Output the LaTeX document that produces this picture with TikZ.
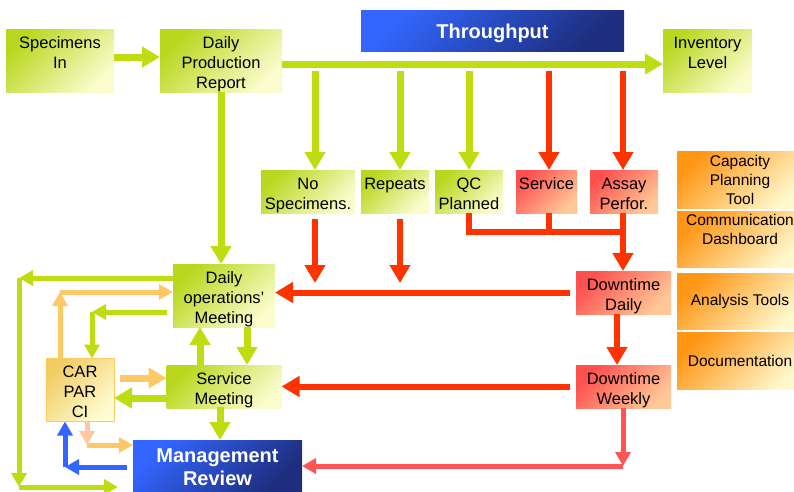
\documentclass[tikz,border=0pt]{standalone}
\usepackage{fontspec}
\setmainfont{Liberation Sans}
\usetikzlibrary{arrows.meta,calc}
\newcommand\myts{\rule{0pt}{19pt}}
\newcommand\mybs{\rule[-4pt]{0pt}{0pt}}
\newcommand\mybts{\rule{0pt}{21pt}}
\newcommand\mybbs{\rule[-4.5pt]{0pt}{0pt}}
\definecolor{gline}{RGB}{190,220,16}
\definecolor{gdark}{RGB}{185,215,30}
\definecolor{glight}{RGB}{250,252,205}
\definecolor{rline}{RGB}{255,51,0}
\definecolor{pline}{RGB}{255,85,85}
\definecolor{rdark}{RGB}{255,80,80}
\definecolor{rlight}{RGB}{255,200,150}
\definecolor{odark}{RGB}{255,150,20}
\definecolor{olight}{RGB}{255,248,205}
\definecolor{cdark}{RGB}{240,205,100}
\definecolor{clight}{RGB}{255,252,210}
\definecolor{cborder}{RGB}{255,200,96}
\definecolor{oline}{RGB}{255,200,102}
\definecolor{peachline}{RGB}{255,200,160}
\definecolor{bline}{RGB}{51,102,255}
\definecolor{bdark}{RGB}{30,45,125}
\definecolor{blight}{RGB}{51,102,255}
\begin{document}
\begin{tikzpicture}[x=1pt,y=-1pt,
  box/.style={inner sep=0pt, outer sep=0pt, align=center, text=black, font=\fontsize{16.5}{20}\selectfont},
  gbox/.style={box, top color=gdark, bottom color=glight, shading angle=45},
  rbox/.style={box, top color=rdark, bottom color=rlight, shading angle=45},
  obox/.style={box, font=\fontsize{15.5}{19}\selectfont, top color=odark, bottom color=olight, shading angle=45},
  cbox/.style={box, draw=cborder, line width=1pt, top color=cdark, bottom color=clight, shading angle=45},
  bbox/.style={box, text=white, font=\bfseries\fontsize{20}{23}\selectfont, top color=blight, bottom color=bdark, shading angle=45},
  sz/.style 2 args={minimum width=#1pt, minimum height=#2pt},
  big/.style={-{Triangle[width=20pt,length=18pt]}},
  sml/.style={-{Triangle[width=15pt,length=14pt]}},
  gthick/.style={draw=gline, line width=7pt},
  rthick/.style={draw=rline, line width=6pt},
  othick/.style={draw=oline, line width=7pt},
  gthin/.style={draw=gline, line width=5pt},
  othin/.style={draw=oline, line width=5pt},
  pthin/.style={draw=peachline, line width=5pt},
  bthin/.style={draw=bline, line width=5pt},
  pkthin/.style={draw=pline, line width=5pt}
]
\useasboundingbox (0,0) rectangle (794,491);

% nodes
\node[gbox, sz={108}{61}] (spec) at (60,60.5) {\myts Specimens\\In\\~\mybs};
\node[gbox, sz={122}{61}] (dpr) at (221,60.5) {\myts Daily\\Production\\Report\mybs};
\node[bbox, sz={263}{41}] (thr) at (492.5,30.5) {\mybts Throughput\mybbs};
\node[gbox, sz={89}{61}] (inv) at (707.5,60.5) {\myts Inventory\\Level\\~\mybs};
\node[gbox, sz={94}{41}] (nos) at (308,191.5) {\myts No\\Specimens.\mybs};
\node[gbox, sz={68}{41}] (rep) at (395,191.5) {\myts Repeats\\~\mybs};
\node[gbox, sz={68}{41}] (qc) at (469,191.5) {\myts QC\\Planned\mybs};
\node[rbox, sz={61}{41}] (serv) at (546.5,191.5) {\myts Service\\~\mybs};
\node[rbox, sz={68}{41}] (assay) at (624,191.5) {\myts Assay\\Perfor.\mybs};
\node[obox, sz={126}{57}] (cap) at (740,179.5) {Capacity\\Planning\\Tool};
\node[obox, sz={126}{56}] (comm) at (740,239) {Communication\\Dashboard\\~};
\node[obox, sz={126}{56}] (anal) at (740,301) {Analysis Tools};
\node[obox, sz={126}{57}] (doc) at (740,360.5) {Documentation};
\node[rbox, sz={95}{41}] (dtd) at (623.5,292.5) {\myts Downtime\\Daily\mybs};
\node[rbox, sz={95}{41}] (dtw) at (623.5,386.5) {\myts Downtime\\Weekly\mybs};
\node[gbox, sz={102}{61}] (dom) at (224,295.5) {\myts Daily\\operations’\\Meeting\mybs};
\node[gbox, sz={115}{41}] (sm) at (224,386.5) {\myts Service\\Meeting\mybs};
\node[cbox, sz={68}{62}] (car) at (80,390) {\myts CAR\\PAR\\CI\mybs};
\node[bbox, sz={169}{51}] (mr) at (217.5,465.5) {\mybts Management\\Review\mybbs};

% top row connectors
\draw[gthick, big] ([yshift=3.5pt]spec.east) -- ([yshift=3.5pt]dpr.west);
\draw[gthick, big] ([yshift=-3.5pt]dpr.east) -- ([yshift=-3.5pt]inv.west);
\coordinate (t1) at (315,71);
\coordinate (t2) at (400,71);
\coordinate (t3) at (469,71);
\coordinate (t4) at (549,71);
\coordinate (t5) at (623,71);
\draw[gthick, big] (t1) -- (t1 |- nos.north);
\draw[gthick, big] (t2) -- (t2 |- rep.north);
\draw[gthick, big] (t3) -- (t3 |- qc.north);
\draw[rthick, big] (t4) -- (t4 |- serv.north);
\draw[rthick, big] (t5) -- (t5 |- assay.north);

% below the middle boxes
\coordinate (v1) at (315,283);
\coordinate (v2) at (400,283);
\draw[rthick, big] ($(t1 |- nos.south)+(0,6)$) -- (v1);
\draw[rthick, big] ($(t2 |- rep.south)+(0,6)$) -- (v2);
\coordinate (j) at (623,232);
\draw[rthick] (t3 |- qc.south) |- (j);
\draw[rthick] (t4 |- serv.south) -- (t4 |- j);
\draw[rthick, big] (t5 |- assay.south) -- (t5 |- dtd.north);

% downtime connectors
\draw[rthick, big] ($(dtd.west)+(-6,0)$) -- (dom.east |- dtd.west);
\draw[rthick, big] ([xshift=-6.5pt]dtd.south) -- ([xshift=-6.5pt]dtw.north);
\draw[rthick, big] ($(dtw.west)+(-6,0)$) -- (sm.east |- dtw.west);
\coordinate (k) at (623,466);
\draw[pkthin, sml] (k |- dtw.south) -- (k);
\draw[pkthin, sml] (k) -- (mr.east |- k);

% DPR to daily operations meeting
\draw[gthick, big] (dpr.south) -- (dpr.south |- dom.north);

% daily ops <-> service meeting
\draw[gthick, big] ([xshift=-24pt]sm.north) -- ([xshift=-24pt]dom.south);
\draw[gthick, big] ([xshift=23pt]dom.south) -- ([xshift=23pt]sm.north);
\coordinate (m1) at (220,407);
\draw[gthick, big] (m1) -- (m1 |- mr.north);

% left loop
\coordinate (L1) at (19,278);
\coordinate (L2) at (19,487);
\coordinate (L3) at (118,487);
\draw[gthin, sml] (dom.west |- L1) -- (L1);
\draw[gthin, sml] (L1) -- (L2);
\draw[gthin, sml] (L2) -- (L3);

% CAR top orange to daily ops
\coordinate (O1) at (60,292);
\draw[othin, sml] (car.north -| O1) -- (O1);
\draw[othin, sml] (O1) -- (dom.west |- O1);

% daily ops green to CAR top
\coordinate (G1) at (92,312);
\draw[gthin, sml] ($(dom.west |- G1)+(-6,0)$) -- (G1);
\draw[gthin, sml] (G1) -- (G1 |- car.north);

% CAR <-> service meeting
\coordinate (c1) at ($(car.east)+(6,-12)$);
\draw[othick, big] (c1) -- (c1 -| sm.west);
\coordinate (c2) at ($(car.east)+(0,8)$);
\draw[gthick, big] (c2 -| sm.west) -- (c2);

% CAR to management review
\coordinate (P1) at (87,445);
\draw[pthin, sml] (car.south -| P1) -- (P1);
\draw[othin, sml] (P1) -- (mr.west |- P1);

% management review back to CAR
\coordinate (B1) at (65,467);
\draw[bthin, sml] ($(mr.west |- B1)+(-6,0)$) -- (B1);
\draw[bthin, sml] (B1) -- (B1 |- car.south);
\end{tikzpicture}
\end{document}
